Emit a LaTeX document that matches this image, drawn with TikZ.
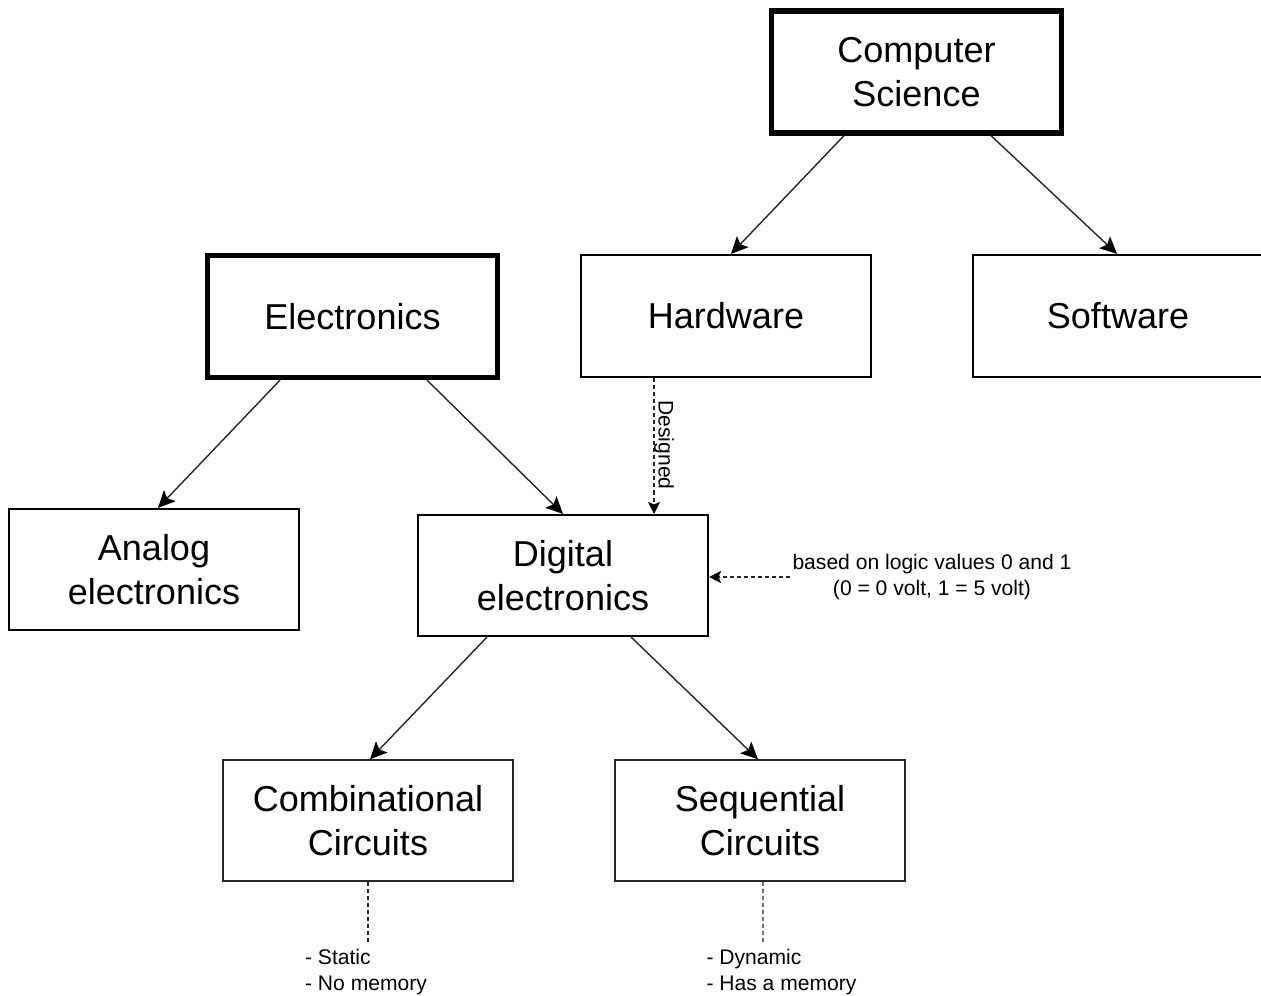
\documentclass[tikz,border=0pt]{standalone}
\usepackage{fontspec}
\setmainfont{Liberation Sans}
\usetikzlibrary{arrows.meta}

\begin{document}
\begin{tikzpicture}[x=0.02cm,y=-0.02cm,
  box/.style={draw=black, line width=1.2pt, minimum width=5.8cm, minimum height=2.44cm,
    align=center, inner sep=0pt, font=\fontsize{20.5}{25}\selectfont},
  mainbox/.style={box, line width=3pt},
  lowbox/.style={box, line width=0.85pt, draw=black!85, minimum height=2.42cm},
  link/.style={draw=black!85, line width=0.8pt,
    -{Stealth[length=0.34cm,width=0.32cm,inset=0.07cm,fill=black,color=black]}},
  hint/.style={draw=black!85, line width=0.65pt, dash pattern=on 2.3pt off 1.7pt},
  hintarrow/.style={hint, -{Stealth[length=0.24cm,width=0.24cm,inset=0.05cm,fill=black,color=black]}},
  note/.style={font=\fontsize{12}{14.8}\selectfont, inner sep=1pt}
]
\useasboundingbox (0,0) rectangle (1261,996);

% boxes
\node[mainbox] (cs) at (916.5,72) {Computer\\Science};
\node[mainbox] (el) at (352.5,316.5) {Electronics};
\node[box] (hw) at (726,316) {Hardware};
\node[box] (sw) at (1118,316) {Software};
\node[box, minimum height=2.42cm] (an) at (154,569.5) {Analog\\electronics};
\node[box, minimum height=2.42cm] (dg) at (563,575.5) {Digital\\electronics};
\node[lowbox] (cb) at (368,820.5) {Combinational\\Circuits};
\node[lowbox] (sq) at (760,820.5) {Sequential\\Circuits};

% hierarchy arrows
\draw[link] ([xshift=-1.45cm]cs.south) -- ([xshift=0.1cm]hw.north);
\draw[link] ([xshift=1.49cm]cs.south) -- ([xshift=-0.02cm]sw.north);
\draw[link] ([xshift=-1.45cm]el.south) -- ([xshift=0.08cm]an.north);
\draw[link] ([xshift=1.49cm]el.south) -- (dg.north);
\draw[link] ([xshift=-1.52cm]dg.south) -- ([xshift=0.04cm]cb.north);
\draw[link] ([xshift=1.36cm]dg.south) -- ([xshift=-0.04cm]sq.north);

% hardware is designed with digital electronics
\coordinate (hwfoot) at ([xshift=-1.44cm]hw.south);
\draw[hintarrow] (hwfoot) -- (hwfoot |- dg.north);
\node[note, rotate=-90] (des) at (664,445) {Designed};

% logic level annotation
\node[note, align=center] (logic) at (932,577) {based on logic values 0 and 1\\(0 = 0 volt, 1 = 5 volt)};
\draw[hintarrow] (logic.west) -- (logic.west -| dg.east);

% circuit properties
\coordinate (cbend) at (368,942);
\draw[hint] (cb.south) -- (cbend);
\node[note, align=left] (cbnote) at (366,972) {- Static\\- No memory};

\coordinate (sqend) at (763,942);
\draw[hint] ([xshift=0.06cm]sq.south) -- (sqend);
\node[note, align=left] (sqnote) at (781.5,972) {- Dynamic\\- Has a memory};
\end{tikzpicture}
\end{document}
